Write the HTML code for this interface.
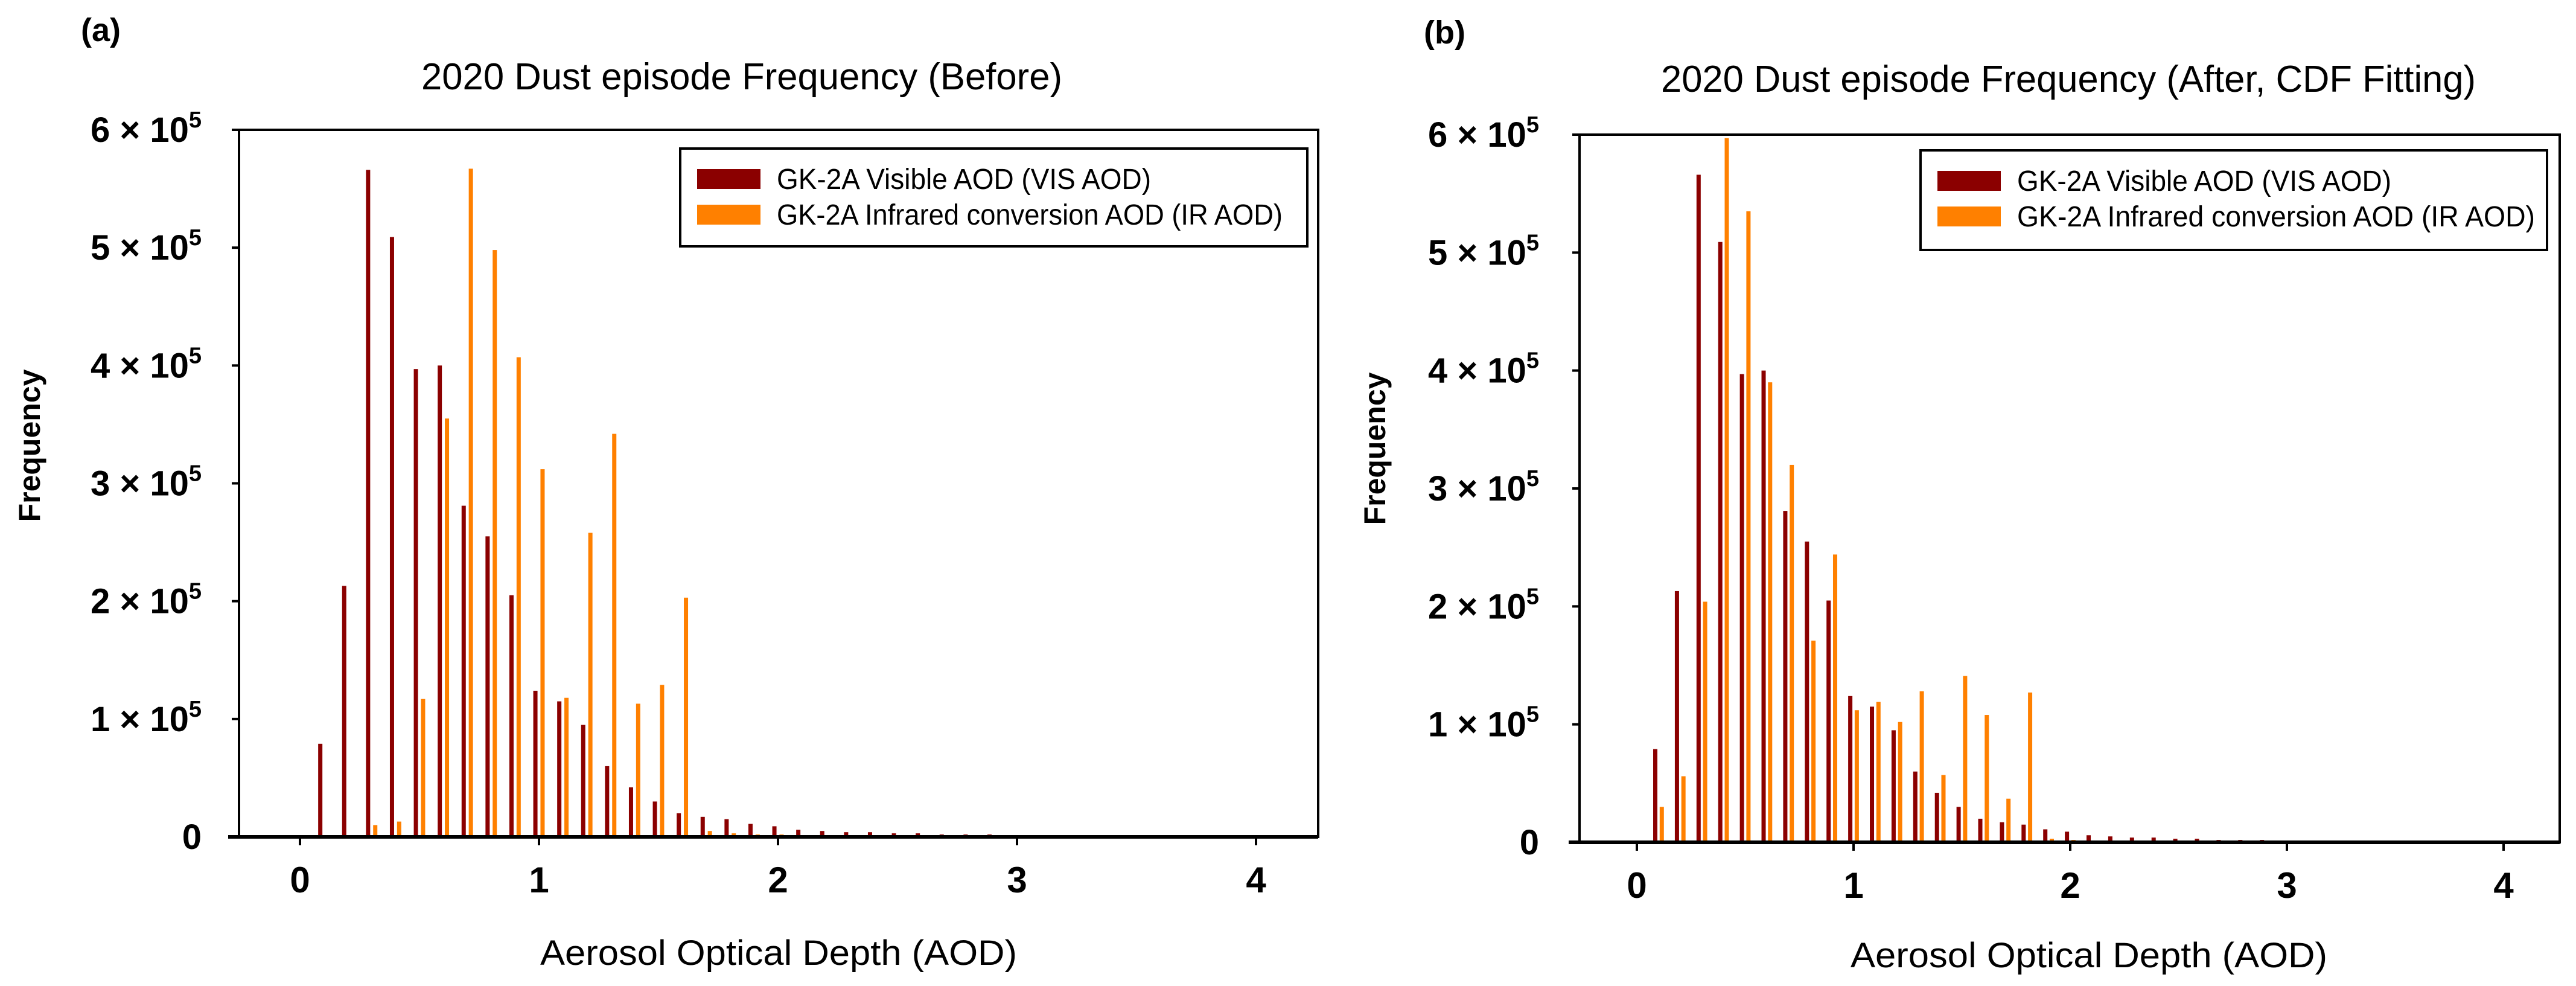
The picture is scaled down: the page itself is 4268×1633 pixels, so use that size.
<!DOCTYPE html>
<html><head><meta charset="utf-8"><style>
html,body{margin:0;padding:0;background:#fff;}
svg{display:block;font-family:"Liberation Sans",sans-serif;}
</style></head><body>
<svg id="fig" width="4268" height="1633" viewBox="0 0 4268 1633" xmlns="http://www.w3.org/2000/svg"></svg>
<script>
const aodBins = [0.1,0.2,0.3,0.4,0.5,0.6,0.7,0.8,0.9,1.0,1.1,1.2,1.3,1.4,1.5,1.6,1.7,1.8,1.9,2.0,2.1,2.2,2.3,2.4,2.5,2.6,2.7,2.8,2.9,3.0];
const visFreq = [0.79,2.13,5.66,5.09,3.97,4.0,2.81,2.55,2.05,1.24,1.15,0.95,0.60,0.42,0.30,0.20,0.17,0.15,0.11,0.09,0.06,0.05,0.04,0.04,0.03,0.03,0.02,0.02,0.02,0.01];
const irFreqBefore = [0.01,0.01,0.10,0.13,1.17,3.55,5.67,4.98,4.07,3.12,1.18,2.58,3.42,1.13,1.29,2.03,0.05,0.03,0.02,0.02,0.01,0.01,0.01,0.01,0.01,0.01,0.01,0.01,0.01,0.01];
const irFreqAfter = [0.30,0.56,2.04,5.97,5.35,3.9,3.2,1.71,2.44,1.12,1.19,1.02,1.28,0.57,1.41,1.08,0.37,1.27,0.03,0.02,0.01,0.01,0.01,0.01,0.01,0.01,0.01,0.01,0.01,0.01];
const xTicks = [0,1,2,3,4];
const yTicks = [0,1,2,3,4,5,6];

const NS = "http://www.w3.org/2000/svg";
const svg = document.getElementById('fig');
function mk(tag, attrs, parent, text){
  const e = document.createElementNS(NS, tag);
  for (const k in attrs) e.setAttribute(k, attrs[k]);
  if (text !== undefined) e.textContent = text;
  (parent||svg).appendChild(e);
  return e;
}

function panel(p){
  const g = mk('g', {});
  
  
  const xS = v => p.x0 + (v) * p.ux;
  const yS = v => p.yb - v * (p.yb - p.yt) / 6;

  const lab = mk('text', {x:p.labX, y:p.labY, 'font-size':54, 'font-weight':'bold'}, g, p.letter);
  
  
  const t = mk('text', {x:p.titleX, y:p.titleY, 'font-size':62, 'text-anchor':'middle', textLength:p.titleW, lengthAdjust:'spacingAndGlyphs'}, g, p.title);
  
  

  const bw = 7;
  aodBins.forEach((b,i)=>{
    const v = visFreq[i];
    const r = mk('rect', {x:xS(b-0.015)-bw/2, y:yS(v), width:bw, height:yS(0)-yS(v), fill:'#8b0000'}, g);
    
    
    const w = p.ir[i];
    const r2 = mk('rect', {x:xS(b+0.015)-bw/2, y:yS(w), width:bw, height:yS(0)-yS(w), fill:'#ff8000'}, g);
    
    
  });

  const fr = mk('rect', {x:p.fl, y:p.yt, width:p.fr-p.fl, height:p.yb-p.yt, fill:'none', stroke:'#000', 'stroke-width':4}, g);
  
  
  const ax = mk('line', {x1:p.fl-18, y1:p.yb, x2:p.fr, y2:p.yb, stroke:'#000', 'stroke-width':6}, g);
  
  

  xTicks.forEach(v=>{
    const tk = mk('line', {x1:xS(v), y1:p.yb, x2:xS(v), y2:p.yb+14, stroke:'#000', 'stroke-width':4}, g);
    
    
    const tl = mk('text', {x:xS(v), y:p.yb+92, 'font-size':60, 'font-weight':'bold', 'text-anchor':'middle'}, g, String(v));
    
    
  });
  yTicks.forEach(v=>{
    const tk = mk('line', {x1:p.fl-12, y1:yS(v), x2:p.fl, y2:yS(v), stroke:'#000', 'stroke-width':4}, g);
    
    
    const tl = mk('text', {x:p.yLabR, y:yS(v)+20, 'font-size':58, 'font-weight':'bold', 'text-anchor':'end'}, g);
    
    
    if (v === 0) { tl.textContent = '0'; }
    else {
      mk('tspan', {}, tl, v + ' \u00d7 10');
      mk('tspan', {'font-size':38, dy:-24}, tl, '5');
    }
  });

  const yl = mk('text', {x:0, y:0, 'font-size':50, 'font-weight':'bold', 'text-anchor':'middle', transform:`translate(${p.yTitleX},${p.yTitleY}) rotate(-90)`}, g, 'Frequency');
  
  
  const xl = mk('text', {x:p.xTitleX, y:p.xTitleY, 'font-size':58, 'text-anchor':'middle', textLength:790, lengthAdjust:'spacingAndGlyphs'}, g, 'Aerosol Optical Depth (AOD)');
  
  

  const lg = mk('g', {}, g);
  
  
  mk('rect', {x:p.lgL, y:p.lgT, width:p.lgR-p.lgL, height:p.lgB-p.lgT, fill:'#fff', stroke:'#000', 'stroke-width':4}, lg);
  const sx = p.lgL + 28;
  const e1 = mk('rect', {x:sx, y:p.lgT+34, width:105, height:33, fill:'#8b0000'}, lg);
  
  
  const e2 = mk('rect', {x:sx, y:p.lgT+93, width:105, height:33, fill:'#ff8000'}, lg);
  
  
  const l1 = mk('text', {x:sx+132, y:p.lgT+67, 'font-size':48, textLength:p.lgW1, lengthAdjust:'spacingAndGlyphs'}, lg, 'GK-2A Visible AOD (VIS AOD)');
  
  
  const l2 = mk('text', {x:sx+132, y:p.lgT+126, 'font-size':48, textLength:p.lgW2, lengthAdjust:'spacingAndGlyphs'}, lg, 'GK-2A Infrared conversion AOD (IR AOD)');
  
  
}

panel({id:'panel-a', letter:'(a)', labX:134, labY:68, title:'2020 Dust episode Frequency (Before)', titleX:1229, titleY:148, titleW:1062,
  ir:irFreqBefore, x0:497, ux:396, fl:396, fr:2184, yt:215, yb:1386, yLabR:334,
  yTitleX:66, yTitleY:738, xTitleX:1290, xTitleY:1598,
  lgL:1127, lgT:246, lgR:2166, lgB:408, lgW1:620, lgW2:838});

panel({id:'panel-b', letter:'(b)', labX:2359, labY:72, title:'2020 Dust episode Frequency (After, CDF Fitting)', titleX:3427, titleY:152, titleW:1350,
  ir:irFreqAfter, x0:2712, ux:359, fl:2617, fr:4241, yt:223, yb:1395, yLabR:2550,
  yTitleX:2295, yTitleY:743, xTitleX:3461, xTitleY:1602,
  lgL:3182, lgT:249, lgR:4220, lgB:414, lgW1:620, lgW2:858});
</script>
</body></html>
